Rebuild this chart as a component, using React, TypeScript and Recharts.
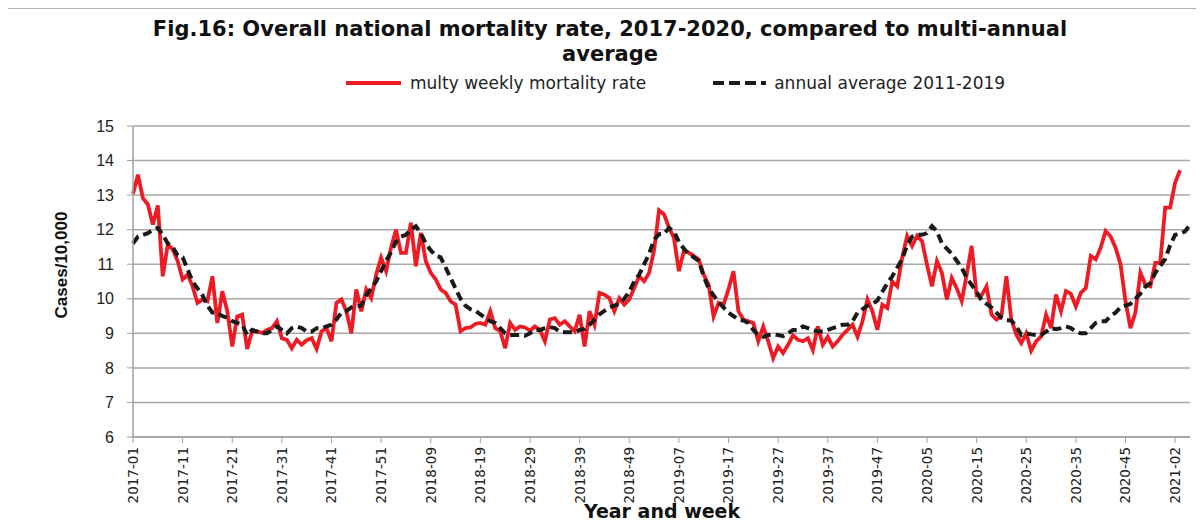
import { LineChart, Line, XAxis, YAxis, CartesianGrid } from "recharts";

// weeks per year shown on the axis (2021 only partly)
const yearWeeks: [number, number][] = [
  [2017, 52],
  [2018, 52],
  [2019, 52],
  [2020, 53],
  [2021, 5],
];

const weeks: string[] = yearWeeks.flatMap(([year, count]) =>
  Array.from({ length: count }, (_, k) => `${year}-${String(k + 1).padStart(2, "0")}`)
);

// cases per 10,000
const weeklyRate = [
  // 2017
  13.03, 13.59, 12.91, 12.73, 12.15, 12.7, 10.65, 11.57, 11.43, 11.09, 10.56, 10.7, 10.36,
  9.88, 9.98, 9.93, 10.65, 9.3, 10.22, 9.64, 8.62, 9.49, 9.54, 8.55, 9.06, 9.06,
  9.01, 9.1, 9.15, 9.35, 8.86, 8.81, 8.57, 8.81, 8.67, 8.8, 8.86, 8.55, 9.06,
  9.15, 8.77, 9.88, 9.98, 9.64, 9.0, 10.27, 9.64, 10.27, 10.02, 10.7, 11.19, 10.8,
  // 2018
  11.48, 12.0, 11.33, 11.33, 12.2, 10.94, 11.91, 11.09, 10.75, 10.56, 10.27, 10.17, 9.93,
  9.83, 9.06, 9.15, 9.17, 9.27, 9.3, 9.25, 9.64, 9.15, 9.06, 8.57, 9.3, 9.1,
  9.2, 9.17, 9.08, 9.2, 9.1, 8.77, 9.4, 9.44, 9.25, 9.35, 9.2, 9.06, 9.54,
  8.62, 9.64, 9.25, 10.17, 10.12, 10.02, 9.64, 10.02, 9.83, 9.98, 10.31, 10.65, 10.51,
  // 2019
  10.75, 11.4, 12.56, 12.45, 12.06, 11.77, 10.8, 11.38, 11.33, 11.24, 11.14, 10.7, 10.41,
  9.49, 9.88, 9.83, 10.27, 10.8, 9.64, 9.4, 9.35, 9.3, 8.77, 9.2, 8.77, 8.28,
  8.62, 8.43, 8.67, 8.94, 8.81, 8.77, 8.86, 8.52, 9.2, 8.67, 8.9, 8.62, 8.77,
  8.96, 9.1, 9.25, 8.9, 9.35, 9.98, 9.64, 9.1, 9.83, 9.73, 10.5, 10.36, 11.19,
  // 2020
  11.82, 11.53, 11.82, 11.67, 10.99, 10.36, 11.09, 10.75, 9.98, 10.6, 10.3, 9.93, 10.7,
  11.53, 10.1, 10.1, 10.36, 9.54, 9.4, 9.5, 10.65, 9.4, 8.96, 8.72, 9.0, 8.5,
  8.77, 8.91, 9.54, 9.15, 10.12, 9.64, 10.22, 10.14, 9.78, 10.17, 10.31, 11.24, 11.14,
  11.48, 11.96, 11.8, 11.48, 11.0, 9.93, 9.15, 9.6, 10.75, 10.41, 10.36, 11.04, 11.04, 12.64,
  // 2021
  12.64, 13.36, 13.72,
];

const annualAverage = [
  // 2017
  11.6, 11.8, 11.85, 11.9, 12.0, 12.05, 11.85, 11.6, 11.5, 11.25, 11.2, 10.85, 10.5,
  10.3, 10.1, 9.8, 9.6, 9.6, 9.5, 9.45, 9.35, 9.3, 9.25, 8.95, 9.1, 9.05,
  9.0, 9.0, 9.1, 9.2, 9.1, 9.0, 9.15, 9.2, 9.15, 9.05, 9.05, 9.15, 9.15,
  9.2, 9.25, 9.4, 9.6, 9.65, 9.75, 9.78, 9.8, 10.1, 10.3, 10.5, 10.8, 11.1,
  // 2018
  11.35, 11.65, 11.8, 11.85, 12.0, 12.1, 11.9, 11.6, 11.4, 11.25, 11.2, 10.9, 10.6,
  10.3, 10.0, 9.8, 9.7, 9.65, 9.55, 9.45, 9.35, 9.3, 9.15, 9.0, 8.95, 8.95,
  8.95, 8.93, 9.0, 9.1, 9.1, 9.15, 9.18, 9.15, 9.05, 9.03, 9.03, 9.03, 9.1,
  9.13, 9.25, 9.4, 9.55, 9.65, 9.75, 9.8, 9.85, 10.0, 10.2, 10.5, 10.7, 11.0,
  // 2019
  11.3, 11.7, 11.87, 11.88, 12.05, 11.95, 11.65, 11.45, 11.3, 11.2, 11.1, 10.65, 10.3,
  10.1, 9.9, 9.75, 9.6, 9.5, 9.4, 9.37, 9.3, 9.1, 8.95, 8.9, 8.95, 8.97,
  8.95, 8.92, 9.0, 9.1, 9.1, 9.2, 9.15, 9.1, 9.05, 9.05, 9.1, 9.15, 9.2,
  9.25, 9.25, 9.35, 9.6, 9.7, 9.8, 9.85, 9.95, 10.2, 10.45, 10.65, 10.9, 11.15,
  // 2020
  11.55, 11.8, 11.85, 11.85, 11.9, 12.1, 11.95, 11.6, 11.45, 11.3, 11.1, 10.9, 10.6,
  10.4, 10.2, 9.95, 9.85, 9.75, 9.6, 9.45, 9.38, 9.37, 9.2, 8.95, 9.0, 8.97,
  8.95, 8.95, 9.05, 9.15, 9.12, 9.15, 9.2, 9.15, 9.05, 9.0, 9.0, 9.15, 9.3,
  9.35, 9.35, 9.5, 9.6, 9.75, 9.8, 9.85, 10.0, 10.15, 10.35, 10.45, 10.75, 10.95, 11.15,
  // 2021
  11.55, 11.85, 11.88, 11.95, 12.15,
];

const yTicks = [6, 7, 8, 9, 10, 11, 12, 13, 14, 15];

const RED = "#ed1c24";
const BLACK = "#1a1a1a";

const data = weeks.map((week, i) => ({
  week,
  rate: weeklyRate[i] ?? null,
  avg: annualAverage[i] ?? null,
}));

const WeekTick = ({ x, y, payload }: any) => (
  <text
    x={x}
    y={y}
    transform={`rotate(-90 ${x} ${y})`}
    textAnchor="end"
    dominantBaseline="central"
    fontFamily="DejaVu Sans"
    fontSize={13.5}
    fill="#222"
  >
    {payload.value}
  </text>
);

export default function App() {
  return (
    <div
      style={{
        position: "relative",
        width: 1204,
        height: 529,
        margin: -8,
        overflow: "hidden",
        background: "#fff",
      }}
    >
      <div
        style={{
          position: "absolute",
          left: 4,
          top: 7,
          width: 1220,
          height: 560,
          border: "2px solid #b0b0b0",
        }}
      />
      <div
        style={{
          position: "absolute",
          left: 0,
          top: 17,
          width: 1220,
          textAlign: "center",
          fontFamily: "DejaVu Sans",
          fontWeight: 700,
          fontSize: 21,
          lineHeight: "25px",
          color: "#111",
        }}
      >
        <div>Fig.16: Overall national mortality rate, 2017-2020, compared to multi-annual</div>
        <div>average</div>
      </div>

      <div
        style={{
          position: "absolute",
          top: 73,
          left: 345,
          display: "flex",
          alignItems: "center",
          fontFamily: "DejaVu Sans",
          fontSize: 17,
          color: "#222",
          whiteSpace: "nowrap",
        }}
      >
        <svg width={58} height={20}>
          <line x1={1} x2={56} y1={10} y2={10} stroke={RED} strokeWidth={4} />
        </svg>
        <span style={{ marginLeft: 7 }}>multy weekly mortality rate</span>
        <svg width={56} height={20} style={{ marginLeft: 66 }}>
          <line
            x1={1}
            x2={54}
            y1={10}
            y2={10}
            stroke={BLACK}
            strokeWidth={4}
            strokeDasharray="11 5"
          />
        </svg>
        <span style={{ marginLeft: 6 }}>annual average 2011-2019</span>
      </div>

      <div
        style={{
          position: "absolute",
          left: 62,
          top: 265,
          transform: "translate(-50%, -50%) rotate(-90deg)",
          fontFamily: "Liberation Sans",
          fontWeight: 700,
          fontSize: 17,
          color: "#111",
          whiteSpace: "nowrap",
        }}
      >
        Cases/10,000
      </div>
      <div
        style={{
          position: "absolute",
          left: 662,
          top: 511,
          transform: "translate(-50%, -50%)",
          fontFamily: "DejaVu Sans",
          fontWeight: 700,
          fontSize: 19,
          color: "#111",
          whiteSpace: "nowrap",
        }}
      >
        Year and week
      </div>

      <div style={{ position: "absolute", left: 0, top: 0 }}>
        <LineChart
          width={1204}
          height={529}
          data={data}
          margin={{ top: 126, right: 14, left: 73, bottom: 22 }}
        >
          <CartesianGrid vertical={false} stroke="#a9a9a9" strokeWidth={1.5} />
          <XAxis
            dataKey="week"
            interval={9}
            height={70}
            tickSize={6}
            tickMargin={4}
            tick={<WeekTick />}
            axisLine={{ stroke: "#a0a0a0", strokeWidth: 1.5 }}
            tickLine={{ stroke: "#a0a0a0" }}
          />
          <YAxis
            domain={[6, 15]}
            ticks={yTicks}
            width={60}
            tickSize={6}
            tickMargin={13}
            interval={0}
            axisLine={{ stroke: "#a0a0a0", strokeWidth: 1.5 }}
            tickLine={{ stroke: "#a0a0a0" }}
            tick={{ fontFamily: "Liberation Sans", fontSize: 16, fill: "#222" }}
          />
          <Line
            type="linear"
            dataKey="rate"
            stroke={RED}
            strokeWidth={3.8}
            dot={false}
            isAnimationActive={false}
          />
          <Line
            type="linear"
            dataKey="avg"
            stroke={BLACK}
            strokeWidth={4}
            strokeDasharray="9 5"
            dot={false}
            connectNulls
            isAnimationActive={false}
          />
        </LineChart>
      </div>
    </div>
  );
}
